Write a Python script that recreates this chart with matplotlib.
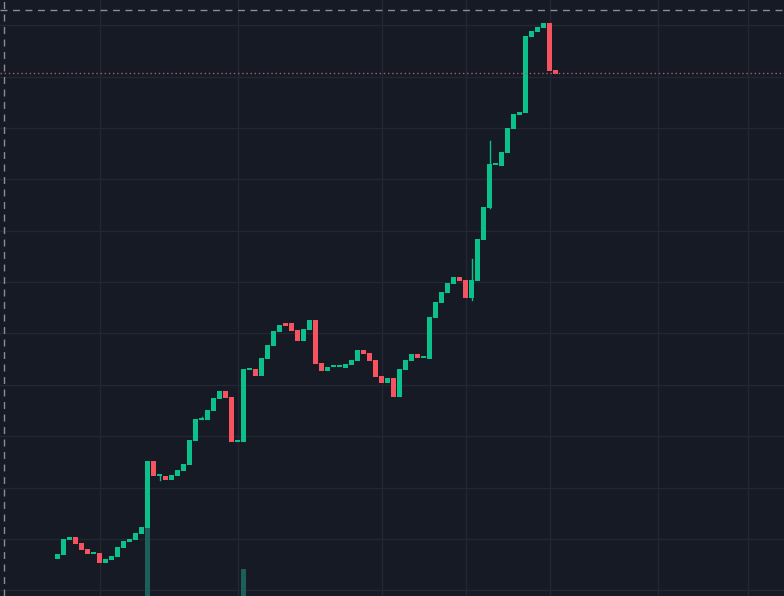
import matplotlib.pyplot as plt
import numpy as np

# candle readings (screen-scale price units, larger = lower on chart)
opens = [559, 555, 540, 537, 543, 549, 553, 553, 563, 560, 557, 548, 542, 540, 534,
         528, 461, 475, 476, 480, 476, 471, 465, 441, 419, 420, 411, 399, 391, 397,
         441, 442, 369, 369, 376, 359, 346, 332, 323, 323, 330, 341, 330, 320, 363,
         371, 366, 366, 368, 365, 361, 350, 353, 360, 376, 383, 378, 397, 370, 361,
         354, 357, 359, 318, 303, 293, 284, 277, 280, 298, 281, 240, 208, 164, 166,
         153, 129, 115, 113, 37, 32, 28, 23, 70]
closes = [554, 539, 537, 544, 550, 554, 553, 563, 559, 556, 547, 541, 539, 533, 527,
          461, 476, 475, 480, 475, 470, 464, 440, 419, 419, 410, 398, 391, 398, 442,
          441, 369, 369, 376, 358, 345, 331, 325, 326, 331, 341, 329, 320, 364, 371,
          367, 366, 366, 364, 360, 350, 354, 361, 377, 383, 378, 397, 369, 360, 354,
          358, 357, 317, 302, 292, 283, 277, 281, 298, 280, 239, 207, 164, 164, 152,
          128, 114, 112, 36, 31, 27, 23, 71, 74]
highs = {17: 475, 24: 417, 69: 259, 72: 141}
lows = {17: 480, 69: 300}
volume_tops = {15: 528, 31: 569}

grid_y = [25, 77, 128, 179, 231, 282, 333, 385, 436, 488, 539, 590]
grid_x = [100, 238, 382, 466, 550, 658, 748]

BG = '#161a25'
GRID = '#232733'
UP = '#0bc08a'
DOWN = '#f7525f'
VOL = '#1c5e58'

fig = plt.figure(figsize=(7.84, 5.96), dpi=100, facecolor=BG)
ax = fig.add_axes([0, 0, 1, 1], facecolor=BG)
ax.set_xlim(0, 784)
ax.set_ylim(596, 0)
ax.axis('off')

for gy in grid_y:
    ax.axhline(gy, color=GRID, lw=1, zorder=0)
for gx in grid_x:
    ax.axvline(gx, color=GRID, lw=1, zorder=0)

x0, step, w = 58, 6, 5
for i, tp in volume_tops.items():
    x = x0 + step * i
    ax.bar(x, 596 - tp, bottom=tp, width=w, color=VOL, zorder=1)

for i, (o, c) in enumerate(zip(opens, closes)):
    x = x0 + step * i
    col = UP if c <= o else DOWN
    top, bot = min(o, c), max(o, c)
    if i in highs or i in lows:
        ax.plot([x, x], [highs.get(i, top), lows.get(i, bot)], color=col, lw=1, zorder=2)
    h = max(bot - top, 1.2)
    ax.bar(x, h, bottom=top - (0.6 if bot == top else 0), width=w, color=col, zorder=3)

ax.axhline(10, color='#8a8d96', lw=1, ls=(0, (5, 4)), zorder=4)
ax.axvline(4, color='#8a8d96', lw=1, ls=(0, (5, 4)), zorder=4)
ax.axhline(73, color='#b05a66', lw=1, ls=(0, (1, 2)), zorder=4)

fig.savefig('out.png', dpi=100, facecolor=BG)
